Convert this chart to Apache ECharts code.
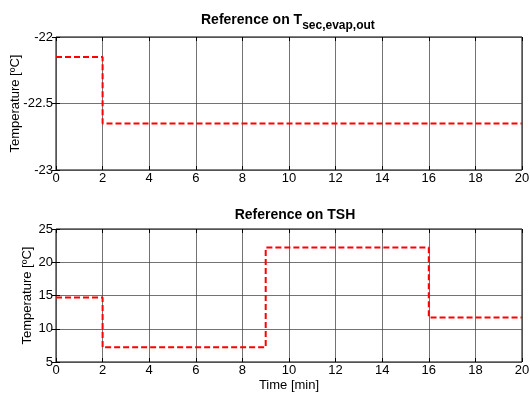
<!DOCTYPE html>
<html><head><meta charset="utf-8">
<script src="https://cdn.jsdelivr.net/npm/echarts@6/dist/echarts.min.js"></script>
<style>html,body{margin:0;padding:0;background:#fff}#c{width:530px;height:396px}</style>
</head><body><div id="c"></div>
<script>
const xTicks = [0,2,4,6,8,10,12,14,16,18,20];
const topTime = [0, 2, 20];
const topValues = [-22.15, -22.65, -22.65];
const botTime = [0, 2, 9, 16, 20];
const botValues = [14.7, 7.2, 22.2, 11.7, 11.7];
const topYTicks = [-23, -22.5, -22];
const botYTicks = [5, 10, 15, 20, 25];

const F = 'Liberation Sans, Arial, sans-serif';
const chart = echarts.init(document.getElementById('c'));
const grids = [
  {left:56, top:37, width:466, height:133, show:true, borderColor:'#000', borderWidth:1, outerBoundsMode:'none', containLabel:false},
  {left:56, top:229, width:466, height:133, show:true, borderColor:'#000', borderWidth:1, outerBoundsMode:'none', containLabel:false}
];
function xAx(gi, pos, labels, name){
  return {type:'value', gridIndex:gi, min:0, max:20, interval:2, position:pos,
    axisLine:{show:false}, axisTick:{show:true, inside:true, length:4, lineStyle:{color:'#000'}},
    axisLabel:{show:labels, color:'#000', fontFamily:F, fontSize:13, margin:2},
    splitLine:{show:pos==='bottom', lineStyle:{color:'#444', width:1, opacity:0.75}},
    name:name||'', nameLocation:'middle', nameGap:17, nameMoveOverlap:false,
    nameTextStyle:{color:'#000', fontFamily:F, fontSize:13}};
}
function yAx(gi, pos, labels, min, max, interval){
  return {type:'value', gridIndex:gi, min:min, max:max, interval:interval, position:pos,
    axisLine:{show:false}, axisTick:{show:true, inside:true, length:4, lineStyle:{color:'#000'}},
    axisLabel:{show:labels, color:'#000', fontFamily:F, fontSize:13, margin:3},
    splitLine:{show:pos==='left', lineStyle:{color:'#444', width:1, opacity:0.75}},
    name: pos==='left' ? 'Temperature [ºC]' : '', nameLocation:'middle', nameGap:pos==='left'? (gi===0?34:22):0,
    nameMoveOverlap:false,
    nameRotate:90, nameTextStyle:{color:'#000', fontFamily:F, fontSize:13}};
}
chart.setOption({
  animation:false,
  title:[
    {text:'{a|Reference on T}{s|sec,evap,out}', left:196, top:4,
      textStyle:{rich:{a:{fontFamily:F, fontSize:14, fontWeight:'bold', color:'#000'},
        s:{fontFamily:F, fontSize:12, fontWeight:'bold', color:'#000', verticalAlign:'bottom', padding:[11,0,0,0]}}}},
    {text:'Reference on TSH', left:290, textAlign:'center', top:203,
      textStyle:{fontFamily:F, fontSize:14, fontWeight:'bold', color:'#000'}}
  ],
  grid:grids,
  xAxis:[xAx(0,'bottom',true), xAx(0,'top',false), xAx(1,'bottom',true,'Time [min]'), xAx(1,'top',false)],
  yAxis:[yAx(0,'left',true,-23,-22,0.5), yAx(0,'right',false,-23,-22,0.5),
         yAx(1,'left',true,5,25,5), yAx(1,'right',false,5,25,5)],
  series:[
    {type:'line', xAxisIndex:0, yAxisIndex:0, step:'end', symbol:'none',
      data: topTime.map((t,i)=>[t, topValues[i]]),
      lineStyle:{color:'#ff0000', width:2, type:[6,3]}},
    {type:'line', xAxisIndex:2, yAxisIndex:2, step:'end', symbol:'none',
      data: botTime.map((t,i)=>[t, botValues[i]]),
      lineStyle:{color:'#ff0000', width:2, type:[6,3]}}
  ]
});
</script></body></html>
